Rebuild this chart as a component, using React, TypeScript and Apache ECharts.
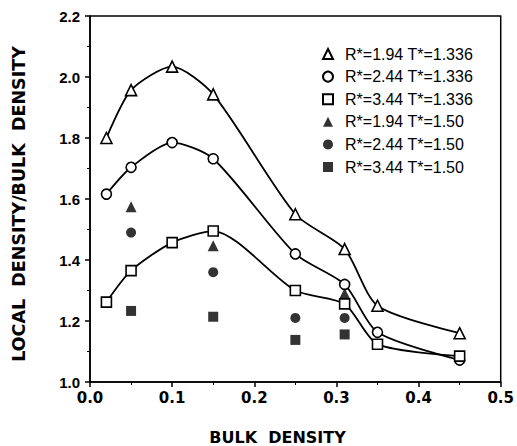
import React, { useEffect, useRef } from "react";
import * as echarts from "echarts";

const xTicks = [0, 0.1, 0.2, 0.3, 0.4, 0.5];
const yTicks = [1.0, 1.2, 1.4, 1.6, 1.8, 2.0, 2.2];

const xOpen = [0.02, 0.05, 0.1, 0.15, 0.25, 0.31, 0.35, 0.45];
const triOpenY = [1.80, 1.957, 2.034, 1.943, 1.55, 1.436, 1.25, 1.16];
const circOpenY = [1.616, 1.704, 1.785, 1.732, 1.42, 1.32, 1.163, 1.072];
const sqOpenY = [1.262, 1.365, 1.457, 1.495, 1.30, 1.256, 1.124, 1.085];

const triFilled = [[0.05, 1.575], [0.15, 1.447], [0.31, 1.29]];
const circFilled = [[0.05, 1.49], [0.15, 1.36], [0.25, 1.21], [0.31, 1.21]];
const sqFilled = [[0.05, 1.233], [0.15, 1.214], [0.25, 1.138], [0.31, 1.156]];

const names = [
  "R*=1.94 T*=1.336",
  "R*=2.44 T*=1.336",
  "R*=3.44 T*=1.336",
  "R*=1.94 T*=1.50",
  "R*=2.44 T*=1.50",
  "R*=3.44 T*=1.50",
];

const zip = (xs: number[], ys: number[]) => xs.map((x, i) => [x, ys[i]]);

export default function App() {
  const ref = useRef<HTMLDivElement>(null);
  useEffect(() => {
    if (!ref.current) return;
    const chart = echarts.init(ref.current, null, { renderer: "svg" });
    const openStyle = { color: "#fff", borderColor: "#000", borderWidth: 1.6 };
    const filledStyle = { color: "#000", borderColor: "#000", borderWidth: 0 };
    const lineSeries = (name: string, data: number[][], symbol: string, size: number) => ({
      name,
      type: "line",
      data,
      smooth: 0.25,
      symbol,
      symbolSize: size,
      showAllSymbol: true,
      lineStyle: { color: "#000", width: 1.8 },
      itemStyle: openStyle,
      z: 3,
    });
    const scatterSeries = (name: string, data: number[][], symbol: string, size: number) => ({
      name,
      type: "scatter",
      data,
      symbol,
      symbolSize: size,
      itemStyle: filledStyle,
      z: 4,
    });
    chart.setOption({
      animation: false,
      backgroundColor: "#fff",
      grid: { left: 90, right: 15, top: 16, bottom: 64, show: true, borderColor: "#000", borderWidth: 1.5 },
      xAxis: {
        type: "value",
        min: xTicks[0],
        max: xTicks[xTicks.length - 1],
        interval: 0.1,
        axisLine: { lineStyle: { color: "#000", width: 1.5 } },
        axisTick: { show: true, length: 5, lineStyle: { color: "#000", width: 1.5 } },
        minorTick: { show: true, splitNumber: 2, length: 3, lineStyle: { color: "#000", width: 1 } },
        splitLine: { show: false },
        axisLabel: {
          color: "#000",
          fontFamily: "DejaVu Sans",
          fontWeight: "bold",
          fontSize: 15,
          margin: 8,
          formatter: (v: number) => v.toFixed(1),
        },
      },
      yAxis: {
        type: "value",
        min: yTicks[0],
        max: yTicks[yTicks.length - 1],
        interval: 0.2,
        axisLine: { show: true, lineStyle: { color: "#000", width: 1.5 } },
        axisTick: { show: true, length: 5, lineStyle: { color: "#000", width: 1.5 } },
        minorTick: { show: true, splitNumber: 2, length: 3, lineStyle: { color: "#000", width: 1 } },
        splitLine: { show: false },
        axisLabel: {
          color: "#000",
          fontFamily: "Liberation Sans",
          fontWeight: "bold",
          fontSize: 15,
          margin: 10,
          formatter: (v: number) => v.toFixed(1),
        },
      },
      legend: {
        orient: "vertical",
        left: 317,
        top: 40,
        itemWidth: 10,
        itemHeight: 10,
        itemGap: 4.6,
        textStyle: { fontFamily: "Liberation Sans", fontSize: 16, lineHeight: 18, color: "#000", padding: [0, 0, 0, 7] },
        data: [
          { name: names[0], icon: "triangle" },
          { name: names[1], icon: "circle" },
          { name: names[2], icon: "rect" },
          { name: names[3], icon: "triangle" },
          { name: names[4], icon: "circle" },
          { name: names[5], icon: "rect" },
        ],
      },
      graphic: [
        {
          type: "text",
          x: 277.5,
          y: 437,
          style: {
            text: "BULK  DENSITY",
            font: "bold 16px 'DejaVu Sans'",
            fill: "#000",
            textAlign: "center",
            textVerticalAlign: "middle",
          },
        },
        {
          type: "text",
          x: 19,
          y: 204,
          rotation: Math.PI / 2,
          style: {
            text: "LOCAL  DENSITY/BULK  DENSITY",
            font: "bold 17.5px 'DejaVu Sans'",
            fill: "#000",
            textAlign: "center",
            textVerticalAlign: "middle",
          },
        },
      ],
      series: [
        lineSeries(names[0], zip(xOpen, triOpenY), "triangle", 11),
        lineSeries(names[1], zip(xOpen, circOpenY), "circle", 10),
        lineSeries(names[2], zip(xOpen, sqOpenY), "rect", 10),
        scatterSeries(names[3], triFilled, "triangle", 11),
        scatterSeries(names[4], circFilled, "circle", 10),
        scatterSeries(names[5], sqFilled, "rect", 10),
      ],
    });
    return () => chart.dispose();
  }, []);
  return <div ref={ref} style={{ width: 517, height: 446, position: "absolute", left: 0, top: 0 }} />;
}
